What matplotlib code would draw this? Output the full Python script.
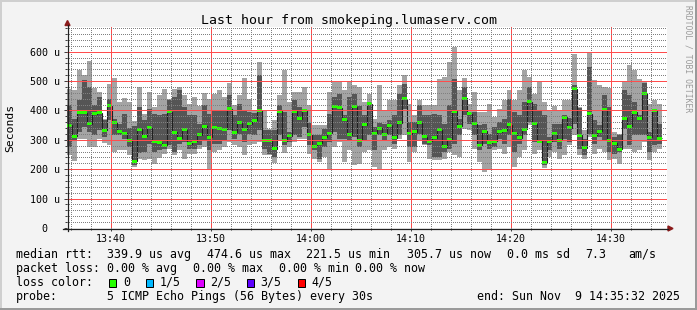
import matplotlib
matplotlib.use('Agg')
import matplotlib.pyplot as plt
from matplotlib.patches import Rectangle, Polygon
from matplotlib.lines import Line2D
import numpy as np

W, H = 697, 310

# 5 pings per 30 s step, sorted: min, 2nd, median, 4th, max (in us)
ping_max = [473, 470, 538, 521, 570, 476, 462, 372, 490, 510,
            428, 442, 428, 365, 479, 389, 462, 411, 451, 473,
            440, 473, 481, 451, 423, 445, 415, 460, 440, 456,
            468, 445, 493, 417, 451, 510, 440, 400, 564, 403,
            338, 366, 451, 536, 428, 462, 462, 479, 417, 349,
            349, 349, 462, 498, 498, 468, 498, 485, 479, 428,
            456, 372, 485, 400, 434, 434, 485, 519, 423, 383,
            434, 417, 417, 417, 507, 513, 564, 615, 468, 510,
            423, 462, 394, 394, 423, 377, 406, 434, 468, 434,
            468, 536, 513, 456, 496, 428, 400, 415, 403, 434,
            434, 592, 411, 332, 598, 502, 485, 479, 476, 327,
            321, 496, 553, 536, 507, 498, 423, 434, 423]
ping_p4 = [420, 370, 436, 502, 479, 420, 445, 367, 440, 372,
           355, 389, 340, 347, 411, 366, 405, 389, 386, 389,
           434, 445, 468, 411, 383, 383, 355, 420, 389, 403,
           403, 403, 453, 383, 423, 400, 394, 392, 521, 332,
           332, 332, 417, 394, 327, 434, 411, 405, 358, 315,
           315, 338, 389, 445, 456, 383, 445, 456, 415, 383,
           423, 343, 358, 355, 366, 383, 456, 490, 360, 361,
           420, 383, 383, 389, 383, 355, 417, 507, 372, 479,
           394, 394, 349, 355, 321, 343, 360, 372, 440, 394,
           383, 428, 479, 423, 400, 383, 310, 355, 355, 383,
           374, 485, 408, 304, 547, 366, 349, 453, 411, 310,
           315, 468, 451, 428, 383, 493, 327, 405, 355]
ping_median = [349, 313, 392, 392, 354, 388, 392, 332, 416, 360,
               327, 323, 299, 227, 336, 313, 342, 295, 290, 281,
               395, 325, 305, 334, 286, 295, 317, 346, 308, 342,
               340, 336, 406, 325, 358, 336, 354, 367, 401, 297,
               297, 269, 397, 297, 314, 397, 372, 401, 317, 279,
               288, 308, 322, 414, 409, 368, 317, 412, 298, 351,
               422, 320, 340, 319, 349, 307, 359, 440, 320, 327,
               358, 310, 295, 307, 334, 276, 302, 397, 347, 442,
               388, 355, 281, 329, 290, 295, 328, 332, 351, 322,
               307, 336, 430, 354, 295, 221.5, 295, 320, 298, 377,
               342, 474.6, 315, 273, 389, 316, 330, 403, 297, 289,
               268, 374, 346, 394, 372, 458, 308, 401, 305.7]
ping_p2 = [276, 295, 327, 343, 327, 315, 332, 310, 366, 315,
           315, 304, 275, 214, 256, 259, 287, 259, 264, 270,
           281, 260, 287, 293, 270, 270, 281, 298, 264, 287,
           287, 298, 332, 304, 321, 293, 321, 315, 332, 270,
           253, 242, 315, 281, 293, 315, 310, 343, 281, 264,
           236, 276, 293, 327, 304, 304, 298, 310, 276, 298,
           315, 264, 315, 298, 315, 287, 315, 406, 276, 276,
           321, 287, 281, 240, 240, 259, 270, 287, 315, 383,
           355, 315, 264, 287, 270, 276, 304, 287, 315, 259,
           287, 315, 360, 293, 293, 213, 264, 293, 270, 304,
           293, 355, 270, 247, 321, 287, 310, 298, 259, 253,
           259, 338, 281, 315, 315, 315, 259, 281, 287]
ping_min = [247, 227, 304, 304, 276, 276, 304, 290, 281, 259,
            264, 264, 250, 207, 234, 230, 234, 219, 238, 253,
            270, 247, 264, 236, 253, 253, 270, 276, 202, 259,
            264, 276, 293, 281, 276, 247, 281, 287, 293, 247,
            247, 221, 298, 256, 276, 293, 304, 304, 253, 236,
            225, 242, 200, 276, 293, 225, 264, 216, 219, 259,
            264, 208, 202, 264, 276, 270, 304, 315, 225, 259,
            298, 281, 236, 230, 230, 236, 259, 247, 242, 338,
            332, 270, 225, 191, 202, 264, 270, 253, 276, 208,
            242, 264, 349, 253, 264, 204, 242, 259, 236, 250,
            281, 315, 247, 236, 310, 253, 270, 259, 230, 236,
            219, 270, 270, 259, 264, 293, 230, 259, 270]

start_min = 35.6   # 13:35:36, minutes after 13:00
step_min = 0.5     # 30 s

xtick_pos = [40, 50, 60, 70, 80, 90]
xtick_labels = ['13:40', '13:50', '14:00', '14:10', '14:20', '14:30']
ytick_pos = [0, 100, 200, 300, 400, 500, 600]
ytick_labels = ['0', '100 u', '200 u', '300 u', '400 u', '500 u', '600 u']

rtt_items = ['339.9 us avg', '474.6 us max', '221.5 us min', '305.7 us now', '0.0 ms sd', '7.3', 'am/s']
loss_items = ['0.00 % avg', '0.00 % max', '0.00 % min', '0.00 % now']
loss_labels = ['0', '1/5', '2/5', '3/5', '4/5']
loss_colors = ['#26ff00', '#00b8ff', '#dd00ff', '#5e00ff', '#ff0000']

MONO = 'DejaVu Sans Mono'


def fx(x):
    return x / W


def fy(y):
    return 1 - y / H


fig = plt.figure(figsize=(W / 100, H / 100), dpi=100, facecolor='#f3f3f3')

# pixel-aligned plot area so the 1px dotted grid stays crisp
x0, x1, ytop, ybot = 67, 667, 27, 228
ymax = 684
ax = fig.add_axes([fx(x0), fy(ybot), (x1 - x0) / W, (ybot - ytop) / H])
ax.set_facecolor('white')
ax.set_xlim(start_min, start_min + 60)
ax.set_ylim(0, ymax)
for s in ax.spines.values():
    s.set_visible(False)

edges = start_min + step_min * np.arange(len(ping_median) + 1)
med = np.array(ping_median)
half = 1.5 * ymax / (ybot - ytop)

ax.stairs(ping_max, edges, baseline=ping_min, fill=True, color='#a4a4a4', lw=0, zorder=1)
ax.stairs(ping_p4, edges, baseline=ping_p2, fill=True, color='#555555', lw=0, zorder=1.1)
ax.stairs(med, edges, baseline=None, color='#202020', lw=0.8, zorder=1.2)
ax.stairs(med + half, edges, baseline=med - half, fill=True, color='#26ff00', lw=0, zorder=1.3)

# grid on top of the smoke
ax.set_xticks(xtick_pos, xtick_labels)
ax.set_xticks([m for m in range(36, 96, 2) if m % 10], minor=True)
ax.set_yticks(ytick_pos, ytick_labels)
ax.set_yticks([v for v in range(20, ymax, 20) if v % 100], minor=True)
ax.set_axisbelow(False)
ax.grid(which='minor', color=(0.5, 0.5, 0.5, 0.45), ls=(0.5, (1, 1)), lw=0.72)
ax.grid(which='major', color=(1.0, 0.3, 0.3, 0.45), ls='-', lw=0.72)

ax.tick_params(axis='both', which='major', direction='out', length=2.2, width=0.72,
               color='#404040', labelsize=7.2)
ax.tick_params(axis='both', which='minor', direction='out', length=1.4, width=0.72,
               color='#404040')
ax.tick_params(axis='x', pad=2.0)
ax.tick_params(axis='y', pad=13.8)
for lbl in ax.get_xticklabels() + ax.get_yticklabels():
    lbl.set_fontfamily(MONO)
for lbl in ax.get_yticklabels():
    lbl.set_ha('center')

# axis lines with arrows
fig.add_artist(Line2D([fx(63), fx(668)], [fy(228.5), fy(228.5)], color='#202020', lw=0.9))
fig.add_artist(Line2D([fx(67.5), fx(67.5)], [fy(231), fy(25)], color='#202020', lw=0.9))
fig.add_artist(Polygon([[fx(668), fy(226)], [fx(668), fy(231)], [fx(673), fy(228.5)]],
                       closed=True, color='#8b1a1a'))
fig.add_artist(Polygon([[fx(65), fy(25.5)], [fx(70), fy(25.5)], [fx(67.5), fy(20.5)]],
                       closed=True, color='#8b1a1a'))

# frame
fig.add_artist(Line2D([0, 1], [fy(0.7), fy(0.7)], color='#cfcfcf', lw=1.44))
fig.add_artist(Line2D([fx(0.7), fx(0.7)], [0, 1], color='#cfcfcf', lw=1.44))
fig.add_artist(Line2D([0, 1], [fy(309.3), fy(309.3)], color='#9a9a9a', lw=1.44))
fig.add_artist(Line2D([fx(696.3), fx(696.3)], [0, 1], color='#9a9a9a', lw=1.44))

# texts
fig.text(fx(349), fy(24), 'Last hour from smokeping.lumaserv.com', ha='center', va='baseline',
         family=MONO, fontsize=9.55, color='black')
fig.text(fx(10), fy(127.6), 'Seconds', rotation=90, ha='center', va='center',
         family=MONO, fontsize=8.2, color='black')
fig.text(fx(688), fy(5), 'RRDTOOL / TOBI OETIKER', rotation=270, ha='center', va='top',
         family=MONO, fontsize=5.8, color='#9a9a9a')

LEG = 8.4
fig.text(fx(16), fy(257.7), 'median rtt:', family=MONO, fontsize=LEG, va='baseline')
for x, t in zip([107.3, 207, 306.3, 406.7, 506.7, 585, 628.3], rtt_items):
    fig.text(fx(x), fy(257.7), t, family=MONO, fontsize=LEG, va='baseline')

fig.text(fx(16), fy(271.7), 'packet loss:', family=MONO, fontsize=LEG, va='baseline')
for x, t in zip([107.3, 193.3, 279.3, 355], loss_items):
    fig.text(fx(x), fy(271.7), t, family=MONO, fontsize=LEG, va='baseline')

fig.text(fx(16), fy(285.7), 'loss color:', family=MONO, fontsize=LEG, va='baseline')
for bx, tx, lab, col in zip([108.7, 145.7, 196.3, 247, 297.7], [123.3, 159.3, 210, 260.7, 311.7],
                            loss_labels, loss_colors):
    fig.add_artist(Rectangle((fx(bx), fy(286.5)), 7.3 / W, 8.0 / H, facecolor=col,
                             edgecolor='black', lw=0.72))
    fig.text(fx(tx), fy(285.7), lab, family=MONO, fontsize=LEG, va='baseline')

fig.text(fx(16), fy(299.7), 'probe:', family=MONO, fontsize=LEG, va='baseline')
fig.text(fx(107.3), fy(299.7), '5 ICMP Echo Pings (56 Bytes) every 30s', family=MONO,
         fontsize=LEG, va='baseline')
fig.text(fx(477.3), fy(299.7), 'end: Sun Nov  9 14:35:32 2025', family=MONO,
         fontsize=LEG, va='baseline')

fig.savefig('out.png', dpi=100, facecolor=fig.get_facecolor())
